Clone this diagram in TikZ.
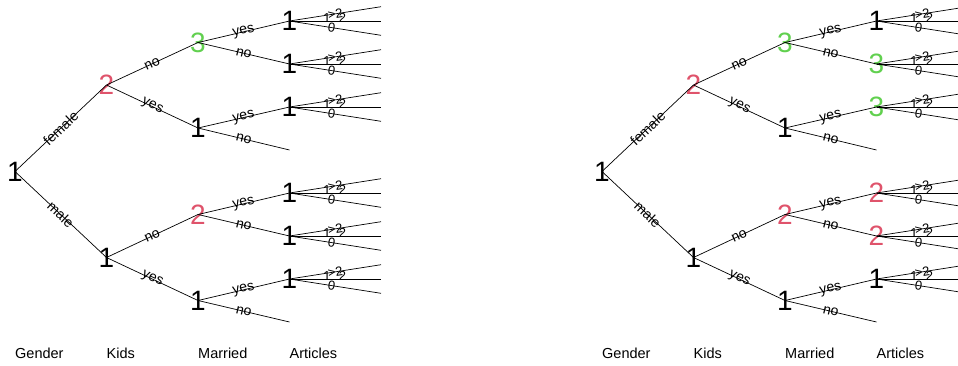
\documentclass[tikz,border=0pt]{standalone}
\usepackage{fontspec}
\setmainfont{Liberation Sans}
\definecolor{rred}{HTML}{DF536B}
\definecolor{rgreen}{HTML}{61D04F}

\tikzset{
  num/.style={font=\fontsize{28}{28}\selectfont, inner sep=0pt},
  lbl/.style={font=\fontsize{14}{14}\selectfont, inner sep=0pt, midway, sloped},
  flbl/.style={font=\fontsize{13}{13}\selectfont, inner sep=0pt},
  axlbl/.style={font=\fontsize{14.5}{14.5}\selectfont, anchor=base west, inner sep=0pt},
  edge/.style={line width=0.7pt, black},
}

% fan of article counts behind one node
\newcommand{\artfan}[1]{%
  \draw[edge] (#1.center) -- node[flbl, pos=0.5, sloped] {>2} ++(91.5,-14.3) coordinate (#1t);
  \draw[edge] (#1.center) -- node[flbl, pos=0.41, anchor=south, yshift=-2pt] {1} node[flbl, pos=0.58, anchor=south, yshift=-2pt] {2} ++(91.5,0) coordinate (#1m);
  \draw[edge] (#1.center) -- node[flbl, pos=0.46, sloped] {0} ++(91.5,14.3) coordinate (#1b);
}

% connectors of one tree
\newcommand{\kidtree}[1]{%
  \draw[edge] (#1g.center) -- node[lbl] {female} (#1kf.center);
  \draw[edge] (#1g.center) -- node[lbl] {male} (#1km.center);
  \draw[edge] (#1kf.center) -- node[lbl] {no} (#1mfn.center);
  \draw[edge] (#1kf.center) -- node[lbl] {yes} (#1mfy.center);
  \draw[edge] (#1km.center) -- node[lbl] {no} (#1mmn.center);
  \draw[edge] (#1km.center) -- node[lbl] {yes} (#1mmy.center);
  \draw[edge] (#1mfn.center) -- node[lbl] {yes} (#1a1.center);
  \draw[edge] (#1mfn.center) -- node[lbl] {no} (#1a2.center);
  \draw[edge] (#1mfy.center) -- node[lbl] {yes} (#1a3.center);
  \draw[edge] (#1mfy.center) -- node[lbl] {no} (#1e1);
  \draw[edge] (#1mmn.center) -- node[lbl] {yes} (#1a4.center);
  \draw[edge] (#1mmn.center) -- node[lbl] {no} (#1a5.center);
  \draw[edge] (#1mmy.center) -- node[lbl] {yes} (#1a6.center);
  \draw[edge] (#1mmy.center) -- node[lbl] {no} (#1e2);
  \artfan{#1a1}\artfan{#1a2}\artfan{#1a3}\artfan{#1a4}\artfan{#1a5}\artfan{#1a6}
  \node[axlbl] (#1xg) at (15,358) {Gender};
  \node[axlbl] (#1xk) at (106.5,358) {Kids};
  \node[axlbl] (#1xm) at (198,358) {Married};
  \node[axlbl] (#1xa) at (289.5,358) {Articles};
}

\begin{document}
\begin{tikzpicture}[x=1pt, y=-1pt]
  \useasboundingbox (0,0) rectangle (958,365);
  \clip (0,0) rectangle (958,365);

  %%%%% LEFT TREE %%%%%
  \node[num] (Lg) at (15,171.5) {1};
  \node[num, rred] (Lkf) at (106.5,85) {2};
  \node[num] (Lkm) at (106.5,257.5) {1};
  \node[num, rgreen] (Lmfn) at (198,42.5) {3};
  \node[num] (Lmfy) at (198,128) {1};
  \node[num, rred] (Lmmn) at (198,214.5) {2};
  \node[num] (Lmmy) at (198,300.5) {1};
  \node[num] (La1) at (289.5,21) {1};
  \node[num] (La2) at (289.5,64) {1};
  \node[num] (La3) at (289.5,107) {1};
  \coordinate (Le1) at (289.5,150);
  \node[num] (La4) at (289.5,193) {1};
  \node[num] (La5) at (289.5,236) {1};
  \node[num] (La6) at (289.5,279) {1};
  \coordinate (Le2) at (289.5,322);
  \kidtree{L}

  %%%%% RIGHT TREE %%%%%
  \begin{scope}[xshift=587pt]
    \node[num] (Rg) at (15,171.5) {1};
    \node[num, rred] (Rkf) at (106.5,85) {2};
    \node[num] (Rkm) at (106.5,257.5) {1};
    \node[num, rgreen] (Rmfn) at (198,42.5) {3};
    \node[num] (Rmfy) at (198,128) {1};
    \node[num, rred] (Rmmn) at (198,214.5) {2};
    \node[num] (Rmmy) at (198,300.5) {1};
    \node[num] (Ra1) at (289.5,21) {1};
    \node[num, rgreen] (Ra2) at (289.5,64) {3};
    \node[num, rgreen] (Ra3) at (289.5,107) {3};
    \coordinate (Re1) at (289.5,150);
    \node[num, rred] (Ra4) at (289.5,193) {2};
    \node[num, rred] (Ra5) at (289.5,236) {2};
    \node[num] (Ra6) at (289.5,279) {1};
    \coordinate (Re2) at (289.5,322);
    \kidtree{R}
  \end{scope}
\end{tikzpicture}
\end{document}
